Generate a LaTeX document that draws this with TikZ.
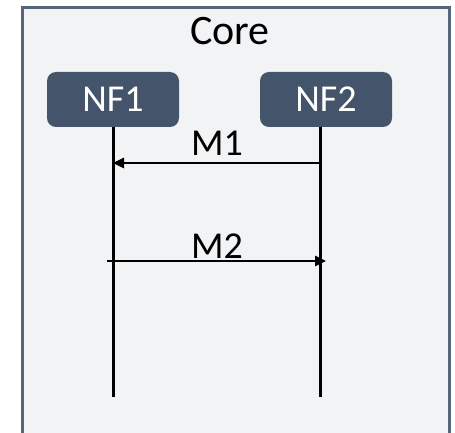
\documentclass[tikz,border=0pt]{standalone}
\usepackage{fontspec}
\setmainfont{Carlito}
\usetikzlibrary{arrows.meta}
\definecolor{corefill}{HTML}{F2F3F5}
\definecolor{coreline}{HTML}{56667A}
\definecolor{nffill}{HTML}{44546A}

\begin{document}
\begin{tikzpicture}[x=1pt,y=-1pt,
    nf/.style={fill=nffill, rounded corners=9pt, text=white,
      minimum width=132pt, minimum height=55pt, inner sep=0pt,
      font=\fontsize{38}{40}\selectfont},
    lbl/.style={anchor=base, inner sep=0pt, font=\fontsize{38}{40}\selectfont},
    life/.style={line width=3pt},
    msg/.style={line width=2.5pt, -{Triangle[length=11pt,width=10pt]}}]

    \useasboundingbox (0,0) rectangle (455,433);

    \def\xa{113}
    \def\xb{320}
    \def\ybot{397}

    % --- Core domain (runs past the lower edge) ---
    \draw[coreline, fill=corefill, line width=3pt] (22,8) rectangle (449,460);
    \node[lbl, font=\fontsize{42}{44}\selectfont] (core) at (230,45) {Core};

    % --- Network functions ---
    \node[nf] (nf1) at (113,99.5) {NF1};
    \node[nf] (nf2) at (326,99.5) {NF2};

    % --- Lifelines ---
    \coordinate (end1) at (\xa,\ybot);
    \coordinate (end2) at (\xb,\ybot);
    \draw[life] (end1 |- nf1.south) -- (end1);
    \draw[life] (end2 |- nf2.south) -- (end2);

    % --- Messages ---
    \coordinate (m1s) at (\xb,163);
    \coordinate (m1e) at (\xa,163);
    \draw[msg] (m1s) -- (m1e);
    \node[lbl] (m1) at (217,155) {M1};

    \coordinate (m2s) at (107,261);
    \coordinate (m2e) at (326,261);
    \draw[msg] (m2s) -- (m2e);
    \node[lbl] (m2) at (217,258) {M2};

\end{tikzpicture}
\end{document}
